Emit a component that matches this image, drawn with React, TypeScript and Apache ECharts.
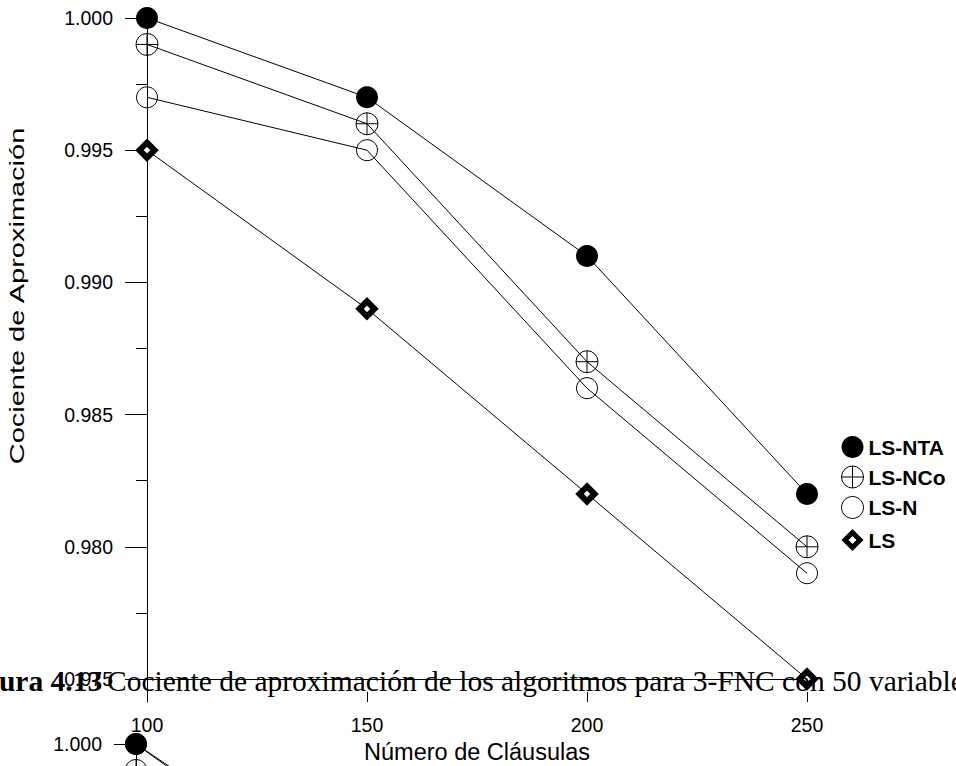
import React, { useEffect, useRef } from "react";
import * as echarts from "echarts";

// ---- data ----
const X_VALUES = [100, 150, 200, 250];
const LS_NTA = [1.0, 0.997, 0.991, 0.982];
const LS_NCO = [0.999, 0.996, 0.987, 0.98];
const LS_N = [0.997, 0.995, 0.986, 0.979];
const LS = [0.995, 0.989, 0.982, 0.975];

const Y_MAJOR_TICKS = [0.975, 0.98, 0.985, 0.99, 0.995, 1.0];
const Y_MINOR_TICKS = [0.9775, 0.9825, 0.9875, 0.9925, 0.9975];

// second (cut-off) panel at the bottom of the page
const X2_VALUES = [100, 150];
const LS_NTA_2 = [1.0, 0.9944];
const LS_NCO_2 = [0.999, 0.993];
const LS_N_2 = [1.0, 0.994];

const SERIES_NAMES = ["LS-NTA", "LS-NCo", "LS-N", "LS"];

const CAPTION_BOLD = "Figura 4.13";
const CAPTION_TEXT =
  "Cociente de aproximación de los algoritmos para 3-FNC con 50 variables";
const X_TITLE = "Número de Cláusulas";
const Y_TITLE = "Cociente de Aproximación";

// ---- styling ----
const SANS = "'Liberation Sans', Arial, Helvetica, sans-serif";
const SERIF = "'Liberation Serif', 'Times New Roman', serif";
const Y_MIN = 0.97413;
const Y_MAX = 1.0;
const CROSS_CIRCLE =
  "path://M0,10A10,10,0,1,1,20,10A10,10,0,1,1,0,10ZM10,0L10,20M0,10L20,10";
const LEGEND_DIAMOND = "path://M0,0M22,22M11,3.5L18.5,11L11,18.5L3.5,11Z";

const symbolStyles: Record<string, any> = {
  "LS-NTA": { symbol: "circle", symbolSize: 22, itemStyle: { color: "#000", borderWidth: 0 } },
  "LS-NCo": {
    symbol: CROSS_CIRCLE,
    symbolSize: 22,
    itemStyle: { color: "rgba(0,0,0,0)", borderColor: "#000", borderWidth: 1 },
  },
  "LS-N": {
    symbol: "circle",
    symbolSize: 21,
    itemStyle: { color: "rgba(0,0,0,0)", borderColor: "#000", borderWidth: 1 },
  },
  LS: {
    symbol: "diamond",
    symbolSize: 15,
    itemStyle: { color: "#fff", borderColor: "#000", borderWidth: 6 },
  },
};

function makeSeries(name: string, xs: number[], ys: number[], axisIdx: number, z: number) {
  const st = symbolStyles[name];
  return {
    type: "line",
    name,
    xAxisIndex: axisIdx,
    yAxisIndex: axisIdx === 0 ? 0 : 2,
    data: xs.map((x, i) => [x, ys[i]]),
    symbol: st.symbol,
    symbolSize: st.symbolSize,
    showAllSymbol: true,
    itemStyle: st.itemStyle,
    lineStyle: { color: "#000", width: 1 },
    emphasis: { disabled: true },
    z,
    clip: false,
  };
}

function yAxes(gridIndex: number) {
  return [
    {
      type: "value",
      gridIndex,
      min: Y_MIN,
      max: Y_MAX,
      position: "left",
      axisLine: { show: true, lineStyle: { color: "#000", width: 1 } },
      axisTick: {
        show: true,
        customValues: Y_MAJOR_TICKS,
        length: 22,
        lineStyle: { color: "#000", width: 1 },
      },
      axisLabel: {
        show: true,
        customValues: Y_MAJOR_TICKS,
        margin: 34,
        color: "#000",
        fontSize: 19.5,
        fontFamily: SANS,
        formatter: (v: number) => v.toFixed(3),
      },
      splitLine: { show: false },
    },
    {
      type: "value",
      gridIndex,
      min: Y_MIN,
      max: Y_MAX,
      position: "left",
      axisLine: { show: false },
      axisTick: {
        show: true,
        customValues: Y_MINOR_TICKS,
        length: 11,
        lineStyle: { color: "#000", width: 1 },
      },
      axisLabel: { show: false },
      splitLine: { show: false },
    },
  ];
}

export default function App() {
  const ref = useRef<HTMLDivElement>(null);

  useEffect(() => {
    if (!ref.current) return;
    const chart = echarts.init(ref.current, null, { renderer: "svg" });

    const option: any = {
      animation: false,
      backgroundColor: "#fff",
      grid: [
        { left: 147, top: 18, width: 660, height: 684, containLabel: false, outerBoundsMode: "none" },
        { left: 136, top: 744, width: 660, height: 684, containLabel: false, outerBoundsMode: "none" },
      ],
      xAxis: [
        {
          type: "value",
          gridIndex: 0,
          min: 100,
          max: 250,
          interval: 50,
          position: "bottom",
          axisLine: { show: false },
          axisTick: { show: true, inside: true, length: 10, lineStyle: { color: "#000", width: 1 } },
          axisLabel: { margin: 13, color: "#000", fontSize: 19.5, fontFamily: SANS },
          splitLine: { show: false },
          name: X_TITLE,
          nameLocation: "middle",
          nameGap: 33,
          nameTextStyle: { color: "#000", fontSize: 23.5, fontFamily: SANS },
        },
        {
          type: "value",
          gridIndex: 1,
          min: 100,
          max: 250,
          interval: 50,
          show: false,
        },
        {
          type: "value",
          gridIndex: 0,
          min: 100,
          max: 250,
          interval: 50,
          position: "bottom",
          offset: -23,
          axisLine: { show: true, lineStyle: { color: "#000", width: 1 } },
          axisTick: { show: false },
          axisLabel: { show: false },
          splitLine: { show: false },
        },
      ],
      yAxis: [...yAxes(0), ...yAxes(1)],
      legend: {
        orient: "vertical",
        left: 834,
        top: 431,
        itemWidth: 22,
        itemHeight: 22,
        itemGap: 7.5,
        selectedMode: false,
        textStyle: { color: "#000", fontSize: 21, fontWeight: "bold", fontFamily: SANS, lineHeight: 22 },
        data: [
          { name: "LS-NTA", icon: "circle", itemStyle: { color: "#000", borderWidth: 0 } },
          {
            name: "LS-NCo",
            icon: CROSS_CIRCLE,
            itemStyle: { color: "rgba(0,0,0,0)", borderColor: "#000", borderWidth: 1 },
          },
          {
            name: "LS-N",
            icon: "circle",
            itemStyle: { color: "rgba(0,0,0,0)", borderColor: "#000", borderWidth: 1 },
          },
          {
            name: "LS",
            icon: LEGEND_DIAMOND,
            itemStyle: { color: "#fff", borderColor: "#000", borderWidth: 5 },
          },
        ],
      },
      series: [
        makeSeries(SERIES_NAMES[0], X_VALUES, LS_NTA, 0, 5),
        makeSeries(SERIES_NAMES[1], X_VALUES, LS_NCO, 0, 4),
        makeSeries(SERIES_NAMES[2], X_VALUES, LS_N, 0, 3),
        makeSeries(SERIES_NAMES[3], X_VALUES, LS, 0, 2),
        makeSeries(SERIES_NAMES[2], X2_VALUES, LS_N_2, 1, 3),
        makeSeries(SERIES_NAMES[1], X2_VALUES, LS_NCO_2, 1, 4),
        makeSeries(SERIES_NAMES[0], X2_VALUES, LS_NTA_2, 1, 5),
      ],
      graphic: [
        {
          type: "text",
          x: 17,
          y: 296,
          rotation: Math.PI / 2,
          scaleX: 1.38,
          style: {
            text: Y_TITLE,
            fill: "#000",
            fontSize: 21,
            fontFamily: SANS,
            align: "center",
            verticalAlign: "middle",
          },
        },
        {
          type: "text",
          x: -42,
          y: 681,
          z: 100,
          style: {
            text: CAPTION_BOLD,
            fill: "#000",
            fontSize: 29.5,
            fontWeight: "bold",
            fontFamily: SERIF,
            align: "left",
            verticalAlign: "middle",
          },
        },
        {
          type: "text",
          x: 107,
          y: 681,
          z: 100,
          style: {
            text: CAPTION_TEXT,
            fill: "#000",
            fontSize: 29.5,
            fontFamily: SERIF,
            align: "left",
            verticalAlign: "middle",
          },
        },
      ],
    };

    chart.setOption(option);
    return () => chart.dispose();
  }, []);

  return (
    <div
      ref={ref}
      style={{ position: "fixed", left: 0, top: 0, width: 956, height: 766, background: "#fff" }}
    />
  );
}
